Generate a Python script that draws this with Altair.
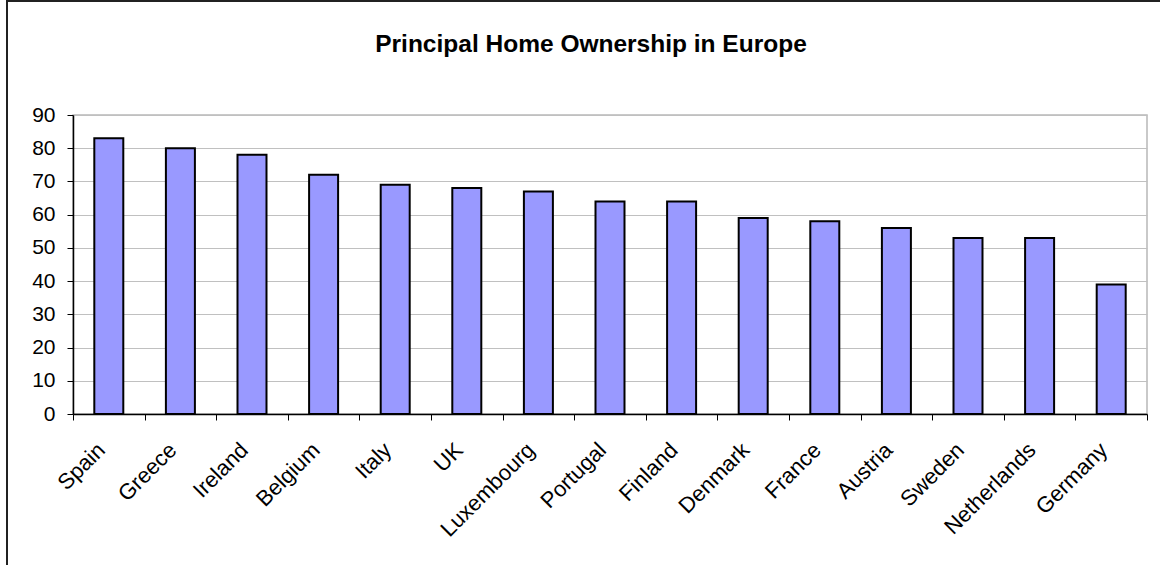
import altair as alt
import pandas as pd

countries = ["Spain", "Greece", "Ireland", "Belgium", "Italy", "UK", "Luxembourg",
             "Portugal", "Finland", "Denmark", "France", "Austria", "Sweden",
             "Netherlands", "Germany"]
values = [83, 80, 78, 72, 69, 68, 67, 64, 64, 59, 58, 56, 53, 53, 39]

df = pd.DataFrame({"country": countries, "value": values})

FONT = "Liberation Sans"

bars = alt.Chart(df).mark_bar(
    color="#9999FF", stroke="black", strokeWidth=2,
    width=alt.RelativeBandSize(0.405)
).encode(
    x=alt.X("country:N", sort=countries,
            scale=alt.Scale(paddingInner=0, paddingOuter=0),
            axis=alt.Axis(title=None, labelAngle=-45, labelAlign="right",
                          labelBaseline="top", labelFontSize=22, labelFont=FONT,
                          labelColor="black", labelPadding=19, labelOffset=-15,
                          tickBand="extent", tickSize=6, tickColor="black",
                          domainColor="black", domainWidth=1.5, grid=False,
                          labelOverlap=False)),
    y=alt.Y("value:Q", scale=alt.Scale(domain=[0, 90], nice=False),
            axis=alt.Axis(title=None, values=list(range(0, 91, 10)),
                          labelFontSize=21, labelFont=FONT, labelColor="black",
                          labelPadding=12, tickSize=6, tickColor="black",
                          domainColor="black", domainWidth=1.5,
                          gridColor="#c0c0c0", gridWidth=1))
)

border = alt.Chart(df).mark_rect(fill=None, stroke="#222222", strokeWidth=1.5).encode(
    x=alt.value(-66), x2=alt.value(1200), y=alt.value(-114), y2=alt.value(700)
)

chart = alt.layer(bars, border).properties(
    width=1074, height=299,
    autosize=alt.AutoSizeParams(type="none"),
    padding={"left": 73, "top": 115, "right": 13, "bottom": 151},
    title=alt.TitleParams("Principal Home Ownership in Europe", font=FONT,
                          fontSize=24.5, fontWeight="bold", color="black",
                          anchor="middle", frame="group", offset=-76, dx=-19,
                          baseline="alphabetic"),
    background="white"
).configure_view(stroke="#b8b8b8", strokeWidth=1.5)

chart.save("out.html", embed_options={"renderer": "svg", "actions": False})
